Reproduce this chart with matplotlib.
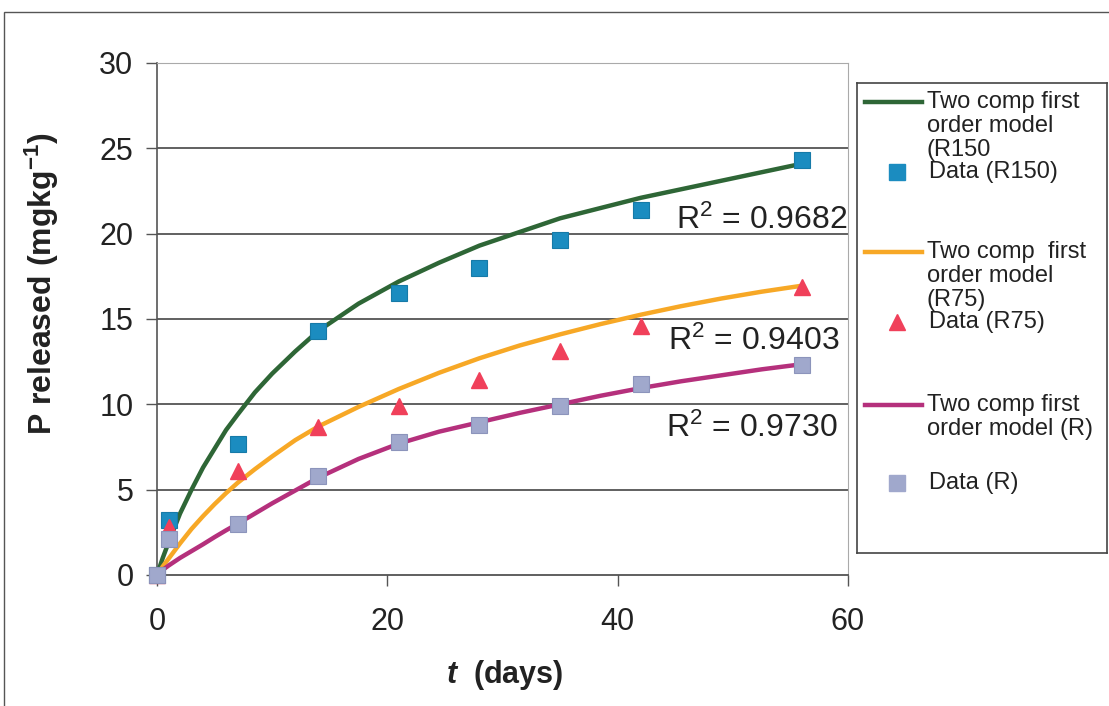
import matplotlib
matplotlib.use("Agg")
from matplotlib import pyplot as plt
from matplotlib.patches import Rectangle

plt.rcParams['font.family'] = ['Liberation Sans', 'DejaVu Sans']
plt.rcParams['mathtext.fontset'] = 'custom'
plt.rcParams['mathtext.it'] = 'Liberation Sans:italic:bold'
plt.rcParams['mathtext.rm'] = 'Liberation Sans'

# measured release data (days, mg/kg)
days = [0, 1, 7, 14, 21, 28, 35, 42, 56]
data_r150 = [0, 3.2, 7.7, 14.3, 16.5, 18.0, 19.6, 21.4, 24.3]
data_r75 = [0, 2.8, 6.1, 8.7, 9.9, 11.4, 13.1, 14.6, 16.9]
data_r = [0, 2.1, 3.0, 5.8, 7.8, 8.8, 9.9, 11.2, 12.3]

# fitted model curves
model_t = [0, 0.5, 1, 2, 3, 4, 5, 6, 7, 8.5, 10, 12, 14, 17.5, 21, 24.5, 28,
           31.5, 35, 38.5, 42, 45.5, 49, 52.5, 56]
model_r150 = [0, 1.0, 1.9, 3.6, 5.0, 6.3, 7.4, 8.5, 9.4, 10.7, 11.8, 13.1, 14.3, 15.9,
              17.2, 18.3, 19.3, 20.1, 20.9, 21.5, 22.1, 22.6, 23.1, 23.6, 24.1]
model_r75 = [0, 0.5, 0.95, 1.85, 2.7, 3.45, 4.15, 4.8, 5.4, 6.2, 6.95, 7.9, 8.7, 9.85,
             10.9, 11.85, 12.7, 13.45, 14.1, 14.7, 15.25, 15.75, 16.2, 16.6, 16.95]
model_r = [0, 0.3, 0.55, 1.0, 1.4, 1.8, 2.22, 2.62, 3.0, 3.6, 4.2, 4.95, 5.7, 6.8,
           7.7, 8.4, 8.95, 9.5, 10.0, 10.5, 10.95, 11.35, 11.7, 12.05, 12.35]

r2_labels = ['0.9682', '0.9403', '0.9730']

c_green = '#2e6636'
c_orange = '#f7a826'
c_purple = '#b5307c'
c_sq1 = '#1b8cc0'
c_tri = '#f0405a'
c_sq2 = '#a0a8cc'

W, H = 1109, 706
fig = plt.figure(figsize=(W / 100, H / 100), dpi=100)
ax = fig.add_axes([157 / W, 1 - 575 / H, (848 - 157) / W, (575 - 63) / H])

#model lines
for vals, col in [(model_r150, c_green), (model_r75, c_orange), (model_r, c_purple)]:
    ax.plot(model_t, vals, color=col, lw=3.2, zorder=3,
            solid_joinstyle='round', solid_capstyle='round')

#data points
ax.plot(days, data_r150, 's', ms=11, color=c_sq1, mec='#167aa8', mew=0.8, zorder=4, clip_on=False)
ax.plot(days, data_r75, '^', ms=12, color=c_tri, mec=c_tri, zorder=5, clip_on=False)
ax.plot(days, data_r, 's', ms=11, color=c_sq2, mec='#8c94bb', mew=0.8, zorder=6, clip_on=False)

ax.set_xlim(0, 60)
ax.set_ylim(0, 30)
ax.set_xticks([0, 20, 40, 60])
ax.set_yticks([0, 5, 10, 15, 20, 25, 30])
ax.tick_params(axis='y', direction='out', length=8, width=1, color='#555555',
               labelsize=22, pad=9, labelcolor='#222222')
ax.tick_params(axis='x', direction='out', length=8, width=1, color='#555555',
               labelsize=22, pad=15, labelcolor='#222222')

ax.yaxis.grid(True, color='#454545', lw=1.2)
gl = ax.get_ygridlines()
gl[0].set_visible(False)
gl[-1].set_visible(False)
ax.set_axisbelow(True)

ax.spines['left'].set_color('#555555')
ax.spines['bottom'].set_color('#444444')
ax.spines['left'].set_linewidth(1.2)
ax.spines['bottom'].set_linewidth(1.2)
ax.spines['top'].set_color('#aaaaaa')
ax.spines['right'].set_color('#aaaaaa')
ax.spines['top'].set_linewidth(0.8)
ax.spines['right'].set_linewidth(0.8)

#R squared labels
for xx, yy, lab in zip([60.0, 59.3, 59.1], [20.8, 13.7, 8.6], r2_labels):
    ax.text(xx, yy, r'R$\mathregular{^2}$ = ' + lab, ha='right', va='center',
            fontsize=23, color='#222222', zorder=7)

fig.text(42 / W, 1 - 284 / H, r'P released (mgkg$\mathregular{^{-1}}$)', rotation=90,
         ha='center', va='center', fontsize=23, fontweight='bold', color='#222222')
fig.text(505 / W, 1 - 675 / H, r'$t$  (days)', ha='center', va='center',
         fontsize=22, fontweight='bold', color='#222222')

#legend drawn as its own box
lax = fig.add_axes([857 / W, 1 - 553 / H, 250 / W, 470 / H])
lax.set_xlim(0, 250)
lax.set_ylim(470, 0)
lax.set_xticks([])
lax.set_yticks([])
for s in lax.spines.values():
    s.set_color('#444444')
    s.set_linewidth(1.2)

leg_lines = [(19, c_green, 'Two comp first\norder model\n(R150'),
             (169, c_orange, 'Two comp  first\norder model\n(R75)'),
             (322, c_purple, 'Two comp first\norder model (R)')]
for y0, col, lab in leg_lines:
    lax.plot([8, 65], [y0, y0], color=col, lw=3.2)
    for i, line in enumerate(lab.split('\n')):
        lax.text(70, y0 + i * 24, line, ha='left', va='center', fontsize=17, color='#222222')

leg_marks = [(89, 's', 11, c_sq1, 'Data (R150)'),
             (239, '^', 12, c_tri, 'Data (R75)'),
             (400, 's', 11, c_sq2, 'Data (R)')]
for y0, mk, ms, col, lab in leg_marks:
    lax.plot([40], [y0], mk, ms=ms, color=col)
    lax.text(72, y0, lab, ha='left', va='center', fontsize=17, color='#222222')

#outer frame
fig.add_artist(Rectangle((4 / W, -0.05), 1.2, 1.05 - 12 / H, transform=fig.transFigure,
                         fill=False, ec='#555555', lw=1))

fig.savefig('out.png', dpi=100)
